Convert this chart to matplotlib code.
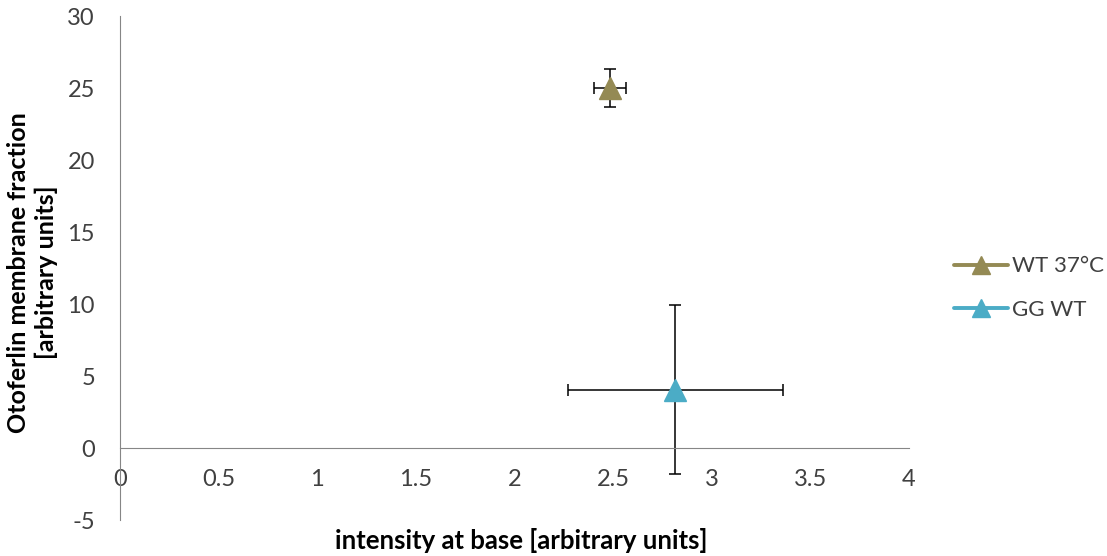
import matplotlib.pyplot as plt

plt.rcParams['font.family'] = ['Lato', 'DejaVu Sans']
plt.rcParams['axes.unicode_minus'] = False

# data
series = ['WT 37°C', 'GG WT']
x_vals = [2.484, 2.816]
y_vals = [25.0, 4.05]
x_err = [0.079, 0.543]
y_err = [1.32, 5.85]
colors = ['#948A54', '#4BACC6']

x_ticks = [0, 0.5, 1, 1.5, 2, 2.5, 3, 3.5, 4]
x_ticklabels = ['0', '0.5', '1', '1.5', '2', '2.5', '3', '3.5', '4']
y_ticks = [-5, 0, 5, 10, 15, 20, 25, 30]

fig = plt.figure(figsize=(11.07, 5.56), dpi=100)
ax = fig.add_axes([0.1084, 0.0647, 0.7127, 0.9065])

for i in range(len(series)):
    ax.errorbar(x_vals[i], y_vals[i], xerr=x_err[i], yerr=y_err[i],
                fmt='none', ecolor='black', elinewidth=1.1, capsize=4.5, capthick=1.1, zorder=2)
    ax.plot(x_vals[i], y_vals[i], marker='^', markersize=16.5, color=colors[i],
            linestyle='none', zorder=3)
    # legend proxy
    ax.plot([], [], marker='^', markersize=13, color=colors[i], linewidth=2.8,
            solid_capstyle='round', label=series[i])

ax.set_xlim(0, 4)
ax.set_ylim(-5, 30)
ax.set_xticks(x_ticks)
ax.set_xticklabels(x_ticklabels)
ax.set_yticks(y_ticks)

for s in ['top', 'right']:
    ax.spines[s].set_visible(False)
ax.spines['bottom'].set_position(('data', 0))
ax.spines['bottom'].set_color('#868686')
ax.spines['left'].set_color('#868686')
ax.tick_params(axis='both', length=0, labelsize=17, colors='#404040')
ax.tick_params(axis='x', pad=15)
ax.tick_params(axis='y', pad=18)

fig.text(0.471, 0.028, 'intensity at base [arbitrary units]', ha='center', va='center',
         fontsize=18.5, fontweight='bold')
fig.text(0.029, 0.51, 'Otoferlin membrane fraction\n[arbitrary units]', ha='center', va='center',
         rotation=90, fontsize=18, fontweight='bold', linespacing=1.25)

leg = fig.legend(loc='center left', bbox_to_anchor=(0.862, 0.482), frameon=False,
                 fontsize=16, handlelength=2.4, labelspacing=1.05, handletextpad=0.2,
                 borderpad=0, borderaxespad=0)
for t in leg.get_texts():
    t.set_color('#404040')

fig.savefig('out.png', dpi=100)
